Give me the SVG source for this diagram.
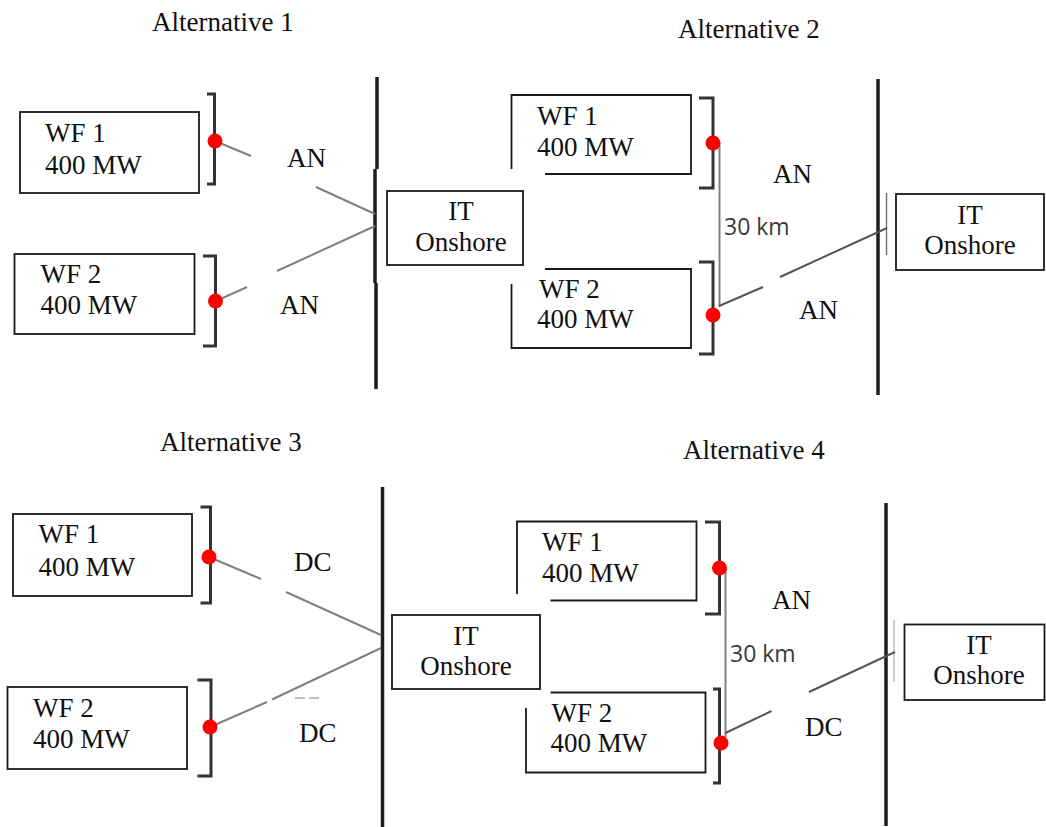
<svg xmlns="http://www.w3.org/2000/svg" width="1046" height="827" viewBox="0 0 1046 827">
<style>
text{font-family:"Liberation Serif","Times New Roman",serif;font-size:27px;fill:#111}
.c{text-anchor:middle}
.box{fill:none;stroke:#1a1a1a;stroke-width:1.8}
.brk{fill:none;stroke:#333;stroke-width:3}
.bus{stroke:#1e1e1e;stroke-width:3.5;fill:none}
.cab{stroke:#808080;stroke-width:2;fill:none}
.thin{stroke:#777;stroke-width:1.5;fill:none}
.dot{fill:#ff0000}
.km{font-family:"Open Sans","DejaVu Sans",sans-serif;font-size:23px;fill:#3a3a3a}
</style>
<rect width="1046" height="827" fill="#fff"/>

<g id="titles">
<text x="152" y="31">Alternative 1</text>
<text x="678" y="38">Alternative 2</text>
<text x="160" y="451">Alternative 3</text>
<text x="683" y="459">Alternative 4</text>
</g>

<g id="buses">
<path class="bus" d="M377,77 V169 M375,169 V283 M376,283 V389"/>
<path class="bus" d="M878,79 V395"/>
<path class="thin" d="M886.5,193 V255"/>
<path class="bus" d="M382.5,487 V827"/>
<path class="bus" d="M886,503 V826"/>
<path class="thin" d="M894,620 V682" style="stroke:#bbb"/>
</g>

<g id="connectors">
<path class="cab" d="M215,141 L251,156 M316,187 L375,214 M216,301 L247,287 M277,271 L375,226"/>
<path class="cab" d="M719.5,143 V307"/>
<path class="cab" style="stroke:#555" d="M719,306 L763,287 M780,277 L887,228"/>
<path class="cab" d="M209,557 L261,579 M286,592 L381,635 M210,727 L267,702 M272,699.5 L381,648"/>
<path class="thin" style="stroke:#aaa" d="M295,698 H305 M309,698 H319"/>
<path class="cab" d="M725.5,568 V737"/>
<path class="cab" style="stroke:#555" d="M725.5,733 L771.5,711 M809,692 L895,652"/>
</g>

<g id="alt1-wf1">
<rect class="box" x="20" y="112" width="179" height="81"/>
<text x="45" y="142">WF 1</text>
<text x="45" y="174">400 MW</text>
<path class="brk" d="M207,94 H214.5 V184 H207"/>
<circle class="dot" cx="215" cy="141" r="7.5"/>
</g>
<g id="alt1-wf2">
<rect class="box" x="14.5" y="254" width="180" height="80"/>
<text x="40.5" y="283">WF 2</text>
<text x="40.5" y="314">400 MW</text>
<path class="brk" d="M203,256 H215.5 V346 H203"/>
<circle class="dot" cx="215.5" cy="301" r="7.5"/>
</g>
<g id="alt1-it">
<rect class="box" x="387" y="191" width="136" height="74"/>
<text class="c" x="461" y="220">IT</text>
<text class="c" x="461" y="251">Onshore</text>
</g>
<g id="alt1-labels">
<text x="287" y="167">AN</text>
<text x="280" y="314">AN</text>
</g>

<g id="alt2-wf1">
<path class="box" d="M511.5,169 V95 H691 V174 H545"/>
<text x="537" y="125">WF 1</text>
<text x="537" y="156">400 MW</text>
<path class="brk" d="M699,98 H713 V188 H699"/>
<circle class="dot" cx="713" cy="143" r="7.5"/>
</g>
<g id="alt2-wf2">
<path class="box" d="M545,269 H691 V348 H511.5 V284"/>
<text x="539" y="298">WF 2</text>
<text x="537" y="328">400 MW</text>
<path class="brk" d="M699,262 H713 V354 H699"/>
<circle class="dot" cx="713" cy="315" r="7.5"/>
</g>
<g id="alt2-it">
<rect class="box" x="896" y="194" width="148" height="76"/>
<text class="c" x="970" y="224">IT</text>
<text class="c" x="970" y="254">Onshore</text>
</g>
<g id="alt2-labels">
<text x="773" y="183">AN</text>
<text x="799" y="319">AN</text>
<text class="km" x="724" y="235">30 km</text>
</g>

<g id="alt3-wf1">
<rect class="box" x="13" y="514" width="179" height="82"/>
<text x="38.5" y="543">WF 1</text>
<text x="38.5" y="576">400 MW</text>
<path class="brk" d="M200.5,507 H210.5 V603 H200.5"/>
<circle class="dot" cx="209" cy="557" r="7.5"/>
</g>
<g id="alt3-wf2">
<rect class="box" x="7.5" y="687" width="179.5" height="82"/>
<text x="33" y="717">WF 2</text>
<text x="33" y="748">400 MW</text>
<path class="brk" d="M197.5,680 H211 V776 H197.5"/>
<circle class="dot" cx="210" cy="727" r="7.5"/>
</g>
<g id="alt3-it">
<rect class="box" x="392" y="615" width="148" height="74"/>
<text class="c" x="466" y="645">IT</text>
<text class="c" x="466" y="675">Onshore</text>
</g>
<g id="alt3-labels">
<text x="294" y="571">DC</text>
<text x="299" y="742">DC</text>
</g>

<g id="alt4-wf1">
<path class="box" d="M517,594 V521.5 H696.5 V600.5 H550.5"/>
<text x="542" y="551">WF 1</text>
<text x="542" y="582">400 MW</text>
<path class="brk" d="M705,522 H719.5 V614 H705"/>
<circle class="dot" cx="719.5" cy="568" r="7.5"/>
</g>
<g id="alt4-wf2">
<path class="box" d="M550.5,692.5 H705.5 V772.5 H526 V708"/>
<text x="551.5" y="722">WF 2</text>
<text x="550.5" y="752">400 MW</text>
<path class="brk" d="M713,689 H719.5 V783 H713"/>
<circle class="dot" cx="721" cy="743" r="7.5"/>
</g>
<g id="alt4-it">
<rect class="box" x="904.5" y="624.5" width="140" height="75.5"/>
<text class="c" x="979" y="654">IT</text>
<text class="c" x="979" y="684">Onshore</text>
</g>
<g id="alt4-labels">
<text x="772" y="609">AN</text>
<text x="805" y="736">DC</text>
<text class="km" x="730" y="662">30 km</text>
</g>
</svg>
